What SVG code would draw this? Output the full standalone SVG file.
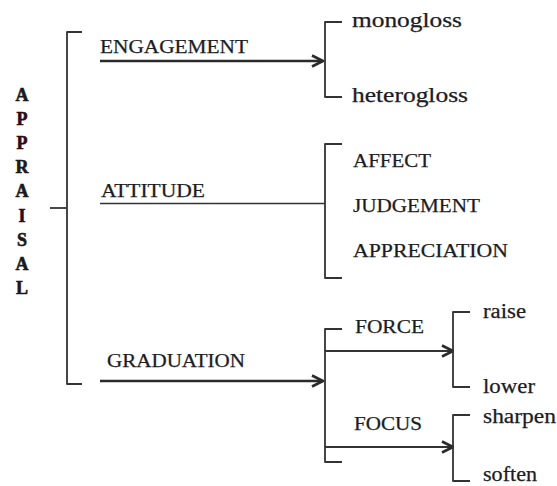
<svg xmlns="http://www.w3.org/2000/svg" width="557" height="486" viewBox="0 0 557 486">
  <style>
    .bg { fill: #ffffff; }
    .cap { font-family: "Liberation Serif", "Times New Roman", serif; font-size: 18.5px; fill: #1c1c24; stroke: #1c1c24; stroke-width: 0.25; }
    .low { font-family: "Liberation Serif", "Times New Roman", serif; font-size: 20px; fill: #1c1c24; stroke: #1c1c24; stroke-width: 0.25; }
    .head { font-family: "Liberation Serif", "Times New Roman", serif; font-size: 18px; font-weight: bold; fill: #1a1a1a; stroke: #1a1a1a; stroke-width: 0.6; text-anchor: middle; }
    .head .dark { fill: #2e0c16; stroke: #2e0c16; }
    .bracket { fill: none; stroke: #333333; stroke-width: 1.8; stroke-linejoin: round; }
    .arrow { fill: none; stroke: #2a2a2a; stroke-width: 2.6; marker-end: url(#chevron); }
    .plain { fill: none; stroke: #333333; stroke-width: 1.6; }
    .branch { fill: none; stroke: #333333; stroke-width: 1.8; marker-end: url(#chevron); }
  </style>
  <defs>
    <marker id="chevron" viewBox="0 0 14 14" refX="13" refY="7" markerWidth="14" markerHeight="14" markerUnits="userSpaceOnUse" orient="auto">
      <path d="M2,1.5 L13,7 L2,12.5" fill="none" stroke="#2a2a2a" stroke-width="2.6" stroke-linejoin="miter"/>
    </marker>
  </defs>
  <rect class="bg" x="0" y="0" width="557" height="486"/>

  <!-- brackets and arrows -->
  <g id="connectors">
    <!-- main brace -->
    <path class="bracket" d="M82,32 H67 V384 H82"/>
    <path class="bracket" d="M50,208 H67"/>
    <!-- system arrows -->
    <path class="arrow" d="M100,61 H323"/>
    <path class="plain" d="M100,203.5 H325"/>
    <path class="arrow" d="M100,381 H323"/>
    <!-- engagement options -->
    <path class="bracket" d="M342,22 H325 V97 H342"/>
    <!-- attitude options -->
    <path class="bracket" d="M342,144 H325 V278 H342"/>
    <!-- graduation options -->
    <path class="bracket" d="M342,329 H325 V462 H342"/>
    <path class="branch" d="M325,351 H453"/>
    <path class="branch" d="M325,447 H453"/>
    <!-- force / focus options -->
    <path class="bracket" d="M470,312 H453 V387 H470"/>
    <path class="bracket" d="M470,415 H453 V481 H470"/>
  </g>

  <g id="appraisal">
    <text class="head" x="22" y="101">A</text>
    <text class="head" x="22" y="125"><tspan class="dark">P</tspan></text>
    <text class="head" x="22" y="149"><tspan class="dark">P</tspan></text>
    <text class="head" x="22" y="173">R</text>
    <text class="head" x="22" y="197">A</text>
    <text class="head" x="22" y="222"><tspan class="dark">I</tspan></text>
    <text class="head" x="22" y="246">S</text>
    <text class="head" x="22" y="270">A</text>
    <text class="head" x="22" y="294">L</text>
  </g>

  <g id="engagement"><text class="cap" x="100" y="53" textLength="148" lengthAdjust="spacingAndGlyphs">ENGAGEMENT</text></g>
  <g id="attitude"><text class="cap" x="101" y="197" textLength="104" lengthAdjust="spacingAndGlyphs">ATTITUDE</text></g>
  <g id="graduation"><text class="cap" x="107" y="367" textLength="138" lengthAdjust="spacingAndGlyphs">GRADUATION</text></g>

  <g id="monogloss"><text class="low" x="352" y="27" textLength="110" lengthAdjust="spacingAndGlyphs">monogloss</text></g>
  <g id="heterogloss"><text class="low" x="352" y="102" textLength="116" lengthAdjust="spacingAndGlyphs">heterogloss</text></g>

  <g id="affect"><text class="cap" x="353" y="167" textLength="78" lengthAdjust="spacingAndGlyphs">AFFECT</text></g>
  <g id="judgement"><text class="cap" x="353" y="212" textLength="127" lengthAdjust="spacingAndGlyphs">JUDGEMENT</text></g>
  <g id="appreciation"><text class="cap" x="353" y="257" textLength="155" lengthAdjust="spacingAndGlyphs">APPRECIATION</text></g>

  <g id="force"><text class="cap" x="355" y="333" textLength="69" lengthAdjust="spacingAndGlyphs">FORCE</text></g>
  <g id="focus"><text class="cap" x="354" y="430" textLength="68" lengthAdjust="spacingAndGlyphs">FOCUS</text></g>

  <g id="raise"><text class="low" x="483" y="318" textLength="43" lengthAdjust="spacingAndGlyphs">raise</text></g>
  <g id="lower"><text class="low" x="483" y="393" textLength="52" lengthAdjust="spacingAndGlyphs">lower</text></g>
  <g id="sharpen"><text class="low" x="483" y="423" textLength="73" lengthAdjust="spacingAndGlyphs">sharpen</text></g>
  <g id="soften"><text class="low" x="483" y="481" textLength="54" lengthAdjust="spacingAndGlyphs">soften</text></g>
</svg>
